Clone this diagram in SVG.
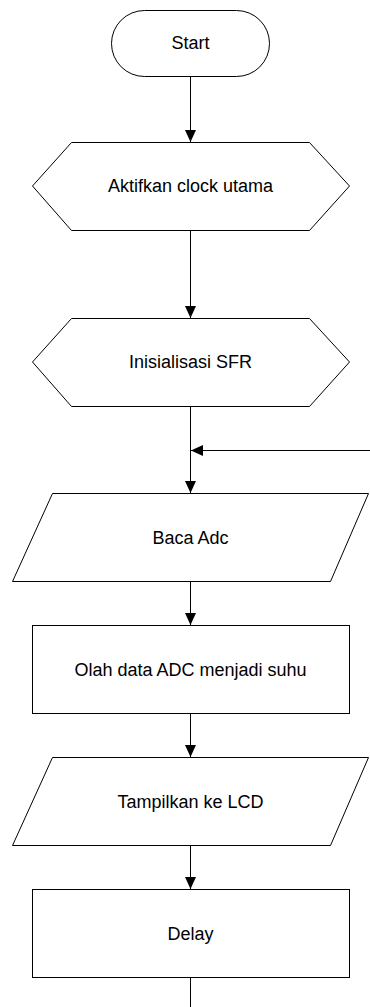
<svg xmlns="http://www.w3.org/2000/svg" width="370" height="1007" viewBox="0 0 370 1007">
<style>
.s{fill:#fff;stroke:#000;stroke-width:1}
.t{font-family:"Liberation Sans",Arial,sans-serif;font-size:18px;fill:#000;text-anchor:middle;dominant-baseline:central}
.c{fill:none;stroke:#000;stroke-width:1}
</style>
<defs>
<marker id="ah" markerWidth="12" markerHeight="12" refX="12" refY="6" orient="auto" markerUnits="userSpaceOnUse">
<path d="M0,0.5 L12,6 L0,11.5 Z" fill="#000"/>
</marker>
</defs>
<g id="connectors">
<line class="c" x1="190.5" y1="76" x2="190.5" y2="142" marker-end="url(#ah)"/>
<line class="c" x1="190.5" y1="230" x2="190.5" y2="318" marker-end="url(#ah)"/>
<line class="c" x1="190.5" y1="406" x2="190.5" y2="493" marker-end="url(#ah)"/>
<line class="c" x1="370" y1="450.5" x2="191" y2="450.5" marker-end="url(#ah)"/>
<line class="c" x1="190.5" y1="581" x2="190.5" y2="625" marker-end="url(#ah)"/>
<line class="c" x1="190.5" y1="713" x2="190.5" y2="757" marker-end="url(#ah)"/>
<line class="c" x1="190.5" y1="845" x2="190.5" y2="889" marker-end="url(#ah)"/>
<line class="c" x1="190.5" y1="977" x2="190.5" y2="1007"/>
</g>
<g id="start">
<rect class="s" x="111.5" y="10.5" width="158" height="66" rx="33" ry="33"/>
<text class="t" x="190.5" y="43">Start</text>
</g>
<g id="clock">
<polygon class="s" points="32.5,186 71.5,142.5 309.5,142.5 349.5,186 309.5,230.5 71.5,230.5"/>
<text class="t" x="190.5" y="186">Aktifkan clock utama</text>
</g>
<g id="sfr">
<polygon class="s" points="32.5,362 71.5,318.5 309.5,318.5 349.5,362 309.5,406.5 71.5,406.5"/>
<text class="t" x="190.5" y="362">Inisialisasi SFR</text>
</g>
<g id="adc">
<polygon class="s" points="52.5,493.5 368.5,493.5 330.5,581.5 12.5,581.5"/>
<text class="t" x="190.5" y="538">Baca Adc</text>
</g>
<g id="olah">
<rect class="s" x="32.5" y="625.5" width="317" height="88"/>
<text class="t" x="190.5" y="670">Olah data ADC menjadi suhu</text>
</g>
<g id="lcd">
<polygon class="s" points="52.5,757.5 368.5,757.5 330.5,845.5 12.5,845.5"/>
<text class="t" x="190.5" y="802">Tampilkan ke LCD</text>
</g>
<g id="delay">
<rect class="s" x="32.5" y="889.5" width="317" height="88"/>
<text class="t" x="190.5" y="934">Delay</text>
</g>
</svg>
